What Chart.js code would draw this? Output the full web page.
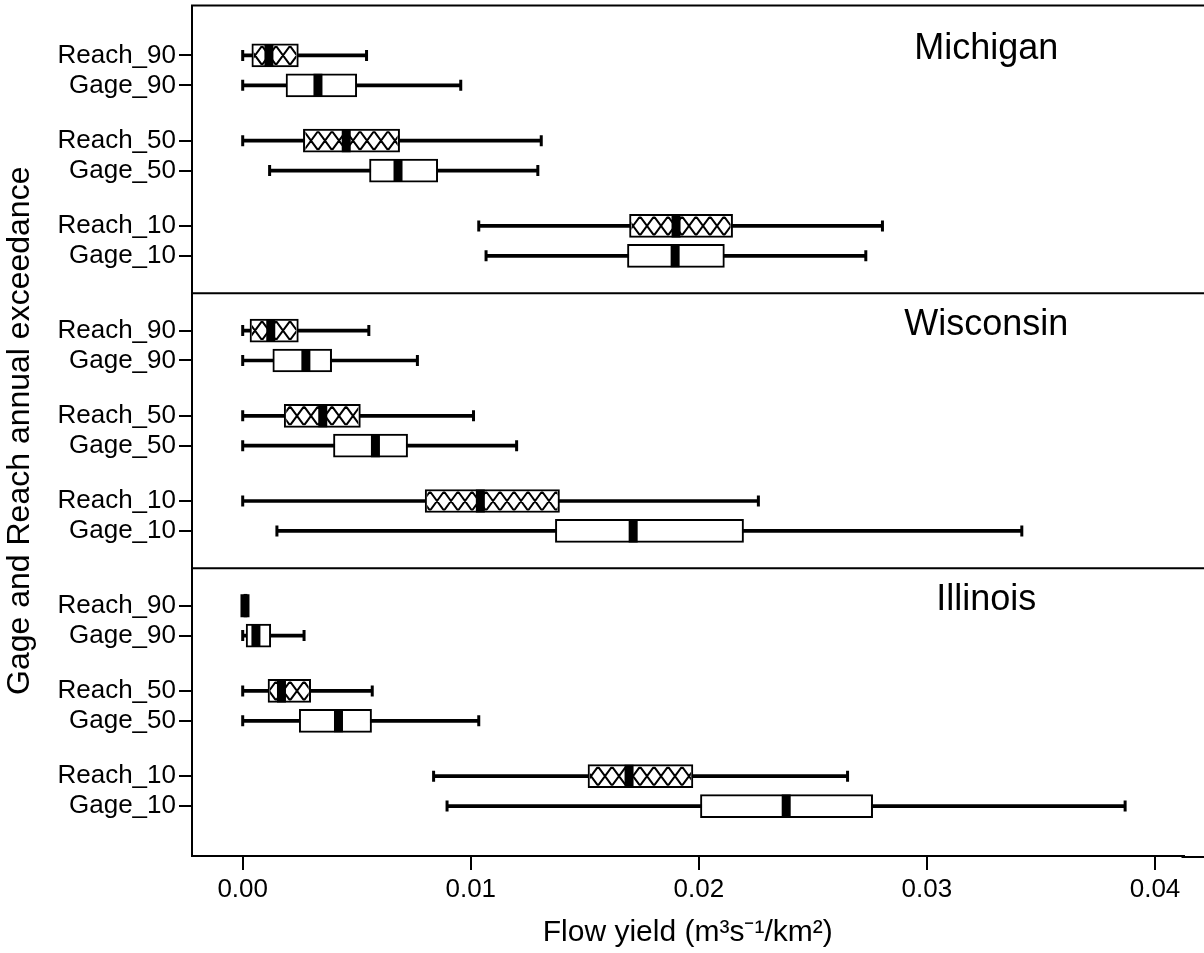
<!DOCTYPE html>
<html>
<head>
<meta charset="utf-8">
<script src="https://cdn.jsdelivr.net/npm/chart.js@4.4.0/dist/chart.umd.min.js"></script>
<style>
body{margin:0;background:#fff;}
#wrap{width:1204px;height:953px;position:relative;overflow:hidden;}
#chart{position:absolute;left:0;top:0;}
</style>
</head>
<body>
<div id="wrap"><canvas id="chart" width="1204" height="968"></canvas></div>
<script>
// panels and rows
const states = ['Michigan', 'Wisconsin', 'Illinois'];
const rowNames = ['Reach_90', 'Gage_90', 'Reach_50', 'Gage_50', 'Reach_10', 'Gage_10'];
const xTicks = [0, 0.01, 0.02, 0.03, 0.04];

// box plot stats, 18 rows: Michigan 6, Wisconsin 6, Illinois 6
const whiskerLow = [0, 0, 0, 0.00118, 0.01035, 0.01067,
                    0, 0, 0, 0, 0, 0.0015,
                    0, 0, 0, 0, 0.00837, 0.00896];
const q1 = [0.0004, 0.0019, 0.00266, 0.00556, 0.01696, 0.01687,
            0.00032, 0.00132, 0.00182, 0.00398, 0.0080, 0.01371,
            0, 0.00015, 0.00111, 0.00248, 0.01514, 0.02007];
const median = [0.00115, 0.0033, 0.00454, 0.00681, 0.0190, 0.01896,
                0.00123, 0.00277, 0.00351, 0.00582, 0.01042, 0.01712,
                0.0001, 0.00058, 0.0017, 0.0042, 0.01694, 0.02383];
const q3 = [0.00244, 0.0050, 0.00688, 0.00855, 0.02148, 0.02112,
            0.00244, 0.0039, 0.00516, 0.00723, 0.01389, 0.02196,
            0.0002, 0.00123, 0.00298, 0.00565, 0.01974, 0.02762];
const whiskerHigh = [0.00543, 0.00956, 0.01309, 0.01294, 0.02805, 0.02732,
                     0.00553, 0.00766, 0.01012, 0.01201, 0.02261, 0.03416,
                     0.0002, 0.00269, 0.00568, 0.01035, 0.02652, 0.03869];

// vi tri cac hang tren truc y
const rowOffset = [0, 1, 2.85, 3.85, 5.7, 6.7];
const panelStep = 9.2;
let rowPos = [];
let rowLabel = [];
for (let p = 0; p < states.length; p++) {
    for (let r = 0; r < rowNames.length; r++) {
        rowPos.push(p * panelStep + rowOffset[r]);
        rowLabel.push(rowNames[r]);
    }
}

const FONT = "'Liberation Sans', Arial, Helvetica, sans-serif";
Chart.defaults.font.family = FONT;
Chart.defaults.color = '#000';

// hatch for Reach boxes, drawn right after the boxes
const hatchPlugin = {
    id: 'hatch',
    afterDatasetDraw(chart, args) {
        const ds = chart.data.datasets[args.index];
        if (ds.label !== 'box') return;
        const ctx = chart.ctx;
        const left0 = chart.chartArea.left;
        args.meta.data.forEach((el, i) => {
            if (!rowLabel[i].startsWith('Reach')) return;
            const p = el.getProps(['x', 'y', 'base', 'height'], true);
            const l = Math.min(p.x, p.base) + 2, r = Math.max(p.x, p.base) - 2;
            const t = p.y - p.height / 2 + 2, b = p.y + p.height / 2 - 2;
            if (r <= l) return;
            const w = 14;
            ctx.save();
            ctx.beginPath();
            ctx.rect(l, t, r - l, b - t);
            ctx.clip();
            ctx.strokeStyle = '#000';
            ctx.lineWidth = 2;
            ctx.beginPath();
            let x0 = left0 + Math.floor((l - left0) / w) * w - w;
            for (let x = x0; x < r + w; x += w) {
                ctx.moveTo(x, t); ctx.lineTo(x + w, b);
                ctx.moveTo(x + w, t); ctx.lineTo(x, b);
            }
            ctx.stroke();
            ctx.restore();
        });
    }
};

// khung, duong chia panel va ten bang
const framePlugin = {
    id: 'frame',
    afterDatasetsDraw(chart) {
        const ctx = chart.ctx;
        const a = chart.chartArea;
        const ys = chart.scales.y, xs = chart.scales.x;
        const edge = chart.width + 5;
        ctx.save();
        ctx.strokeStyle = '#000';
        ctx.lineWidth = 2;
        ctx.beginPath();
        ctx.moveTo(a.left - 1, a.top);
        ctx.lineTo(edge, a.top);
        for (let p = 1; p < states.length; p++) {
            const y = ys.getPixelForValue(p * panelStep - 1.25);
            ctx.moveTo(a.left, y);
            ctx.lineTo(edge, y);
        }
        // x axis line carried on to the right edge
        ctx.moveTo(a.right - 2, a.bottom + 1);
        ctx.lineTo(edge, a.bottom + 1);
        ctx.stroke();
        ctx.fillStyle = '#000';
        ctx.font = '36px ' + FONT;
        ctx.textAlign = 'center';
        ctx.textBaseline = 'middle';
        states.forEach((s, p) => {
            ctx.fillText(s, xs.getPixelForValue(0.0326), ys.getPixelForValue(p * panelStep - 0.2));
        });
        ctx.restore();
    }
};

function makeChart(id) {
    const canvas = document.getElementById(id);
    const ctx = canvas.getContext('2d');
    const data = {
        datasets: [
            {
                label: 'whisker', type: 'bar', order: 5,
                data: rowPos.map((y, i) => ({x: [whiskerLow[i], whiskerHigh[i]], y: y})),
                backgroundColor: '#000', borderWidth: 0, barThickness: 3, grouped: false
            },
            {
                label: 'box', type: 'bar', order: 4,
                data: rowPos.map((y, i) => ({x: [q1[i], q3[i]], y: y})),
                backgroundColor: '#fff', borderColor: '#000', borderWidth: 2,
                borderSkipped: false, barThickness: 23, grouped: false
            },
            {
                label: 'caps', type: 'scatter', order: 3, indexAxis: 'y',
                data: rowPos.flatMap((y, i) => [{x: whiskerLow[i], y: y}, {x: whiskerHigh[i], y: y}]),
                pointStyle: 'line', rotation: 90, pointRadius: 5.5,
                borderColor: '#000', borderWidth: 3, showLine: false
            },
            {
                label: 'median', type: 'scatter', order: 2, indexAxis: 'y',
                data: rowPos.map((y, i) => ({x: median[i], y: y})),
                pointStyle: 'line', rotation: 90, pointRadius: 11.5,
                borderColor: '#000', borderWidth: 9, showLine: false
            }
        ]
    };

    const config = {
        type: 'bar',
        data: data,
        plugins: [hatchPlugin, framePlugin],
        options: {
            indexAxis: 'y',
            responsive: false,
            animation: false,
            events: [],
            layout: {padding: {top: 4, left: 0, right: 0, bottom: 0}},
            plugins: {legend: {display: false}, tooltip: {enabled: false}},
            scales: {
                x: {
                    type: 'linear', min: -0.0022, max: 0.0422,
                    afterBuildTicks: s => { s.ticks = xTicks.map(v => ({value: v})); },
                    afterFit: s => { s.height = 97; },
                    ticks: {font: {size: 26}, padding: 4, maxRotation: 0,
                        callback: v => v.toFixed(2)},
                    grid: {display: true, drawOnChartArea: false, drawTicks: true,
                        tickLength: 14, color: '#000', lineWidth: 2},
                    border: {display: true, color: '#000', width: 2},
                    title: {display: true, text: 'Flow yield (m³s⁻¹/km²)',
                        font: {size: 30}, padding: {top: 0, bottom: 2}}
                },
                y: {
                    type: 'linear', reverse: true, offset: false,
                    min: -1.67, max: 2 * panelStep + 6.7 + 1.67,
                    afterBuildTicks: s => { s.ticks = rowPos.map(v => ({value: v})); },
                    afterFit: s => { s.width = 192; },
                    ticks: {font: {size: 26}, padding: 3,
                        callback: (v, i) => rowLabel[i]},
                    grid: {display: true, offset: false, drawOnChartArea: false, drawTicks: true,
                        tickLength: 13, color: '#000', lineWidth: 2},
                    border: {display: true, color: '#000', width: 2},
                    title: {display: true, text: 'Gage and Reach annual exceedance',
                        font: {size: 32}, padding: {top: 1, bottom: 0}}
                }
            }
        }
    };

    const chart = new Chart(ctx, config);

    // 0.00 o x = 242.7, 0.04 o x = 1155
    let a = chart.chartArea;
    const ppu = (1155 - 242.7) / 0.04;
    const xmin = -(242.7 - a.left) / ppu;
    chart.options.scales.x.min = xmin;
    chart.options.scales.x.max = xmin + (a.right - a.left) / ppu;
    chart.update();

    // truc x nam o y = 856 trong khung nhin
    a = chart.chartArea;
    canvas.style.top = (856 - a.bottom) + 'px';
}

makeChart('chart');
</script>
</body>
</html>
